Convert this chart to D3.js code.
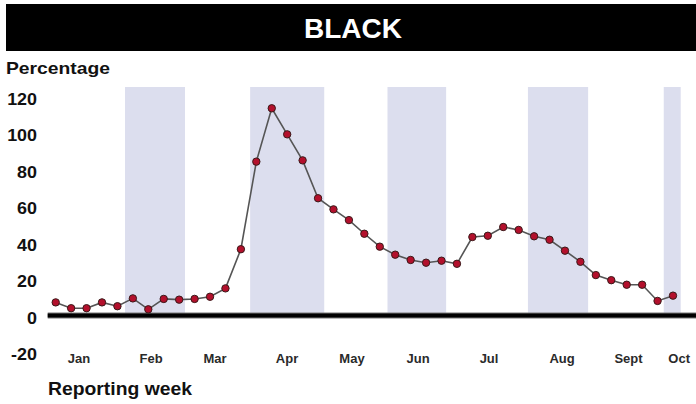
<!DOCTYPE html>
<html>
<head>
<meta charset="utf-8">
<script src="https://cdn.jsdelivr.net/npm/d3@7/dist/d3.min.js"></script>
<style>
  html, body { margin: 0; padding: 0; background: #fff; }
  svg { display: block; }
  text { font-family: "Liberation Sans", Arial, Helvetica, sans-serif; font-weight: bold; }
</style>
</head>
<body>
<svg id="chart" width="696" height="404"></svg>
<script>
// ---- data ----
const title = "BLACK";
const yAxisTitle = "Percentage";
const xAxisTitle = "Reporting week";
const weeks = d3.range(0, 41);
const values = [7.2, 4.0, 4.0, 7.2, 5.1, 9.4, 3.4, 9.1, 8.7, 9.1,
                10.3, 14.9, 36.4, 84.5, 113.8, 99.5, 85.2, 64.4, 58.3, 52.4,
                44.9, 37.8, 33.4, 30.5, 29.0, 30.1, 28.4, 43.1, 43.8, 48.6,
                47.0, 43.5, 41.6, 35.6, 29.5, 22.2, 19.4, 16.9, 16.9, 8.0, 10.9];
const yTicks = [-20, 0, 20, 40, 60, 80, 100, 120];
const monthLabels = ["Jan", "Feb", "Mar", "Apr", "May", "Jun", "Jul", "Aug", "Sept", "Oct"];
const monthWeek = [1.51, 6.18, 10.32, 14.99, 19.2, 23.48, 28.08, 32.81, 37.12, 40.4];
const bandStart = [4.49, 12.6, 21.5, 30.6, 39.4];
const bandEnd   = [8.38, 17.4, 25.3, 34.5, 40.5];

// ---- layout ----
const svg = d3.select("#chart");
const x = d3.scaleLinear().domain([0, 40]).range([55.7, 673]);
const y = d3.scaleLinear().domain([0, 120]).range([315.5, 97]);

// title bar
svg.append("rect").attr("x", 6).attr("y", 4).attr("width", 690).attr("height", 47).attr("fill", "#000");
svg.append("text").attr("x", 353).attr("y", 37.5).attr("text-anchor", "middle")
  .attr("fill", "#fff").attr("font-size", 28).text(title);

// y axis title
svg.append("text").attr("x", 6).attr("y", 74).attr("font-size", 17)
  .attr("textLength", 104).attr("lengthAdjust", "spacingAndGlyphs").attr("fill", "#111").text(yAxisTitle);

// shaded bands
svg.append("g").selectAll("rect").data(bandStart).join("rect")
  .attr("x", d => x(d))
  .attr("y", 87)
  .attr("width", (d, i) => x(bandEnd[i]) - x(d))
  .attr("height", y(0) - 87)
  .attr("fill", "#dcdeee");

// y tick labels
const yl = svg.append("g");
yl.selectAll("g").data(yTicks).join("g")
  .attr("transform", d => `translate(37,${y(d) + 8})scale(1.12,1)`)
  .append("text").attr("text-anchor", "end").attr("font-size", 16).attr("fill", "#111")
  .text(d => d);

// zero line
svg.append("line").attr("x1", 47.7).attr("x2", 696).attr("y1", y(0)).attr("y2", y(0))
  .attr("stroke", "#777").attr("stroke-width", 6);
svg.append("line").attr("x1", 47.7).attr("x2", 696).attr("y1", y(0)).attr("y2", y(0))
  .attr("stroke", "#000").attr("stroke-width", 4);

// month labels
svg.append("g").selectAll("text").data(monthLabels).join("text")
  .attr("x", (d, i) => x(monthWeek[i]))
  .attr("y", 363)
  .attr("text-anchor", "middle").attr("font-size", 13).attr("fill", "#2a2a2a")
  .text(d => d);

// x axis title
svg.append("text").attr("x", 48).attr("y", 395).attr("font-size", 18)
  .attr("textLength", 144).attr("lengthAdjust", "spacingAndGlyphs").attr("fill", "#111").text(xAxisTitle);

// line
const line = d3.line().x((d, i) => x(weeks[i])).y(d => y(d));
svg.append("path").datum(values).attr("d", line)
  .attr("fill", "none").attr("stroke", "#555").attr("stroke-width", 1.6);

// points
svg.append("g").selectAll("circle").data(values).join("circle")
  .attr("cx", (d, i) => x(weeks[i])).attr("cy", d => y(d))
  .attr("r", 3.7)
  .attr("fill", "#b3102c").attr("stroke", "#3a1a1a").attr("stroke-width", 1);
</script>
</body>
</html>
